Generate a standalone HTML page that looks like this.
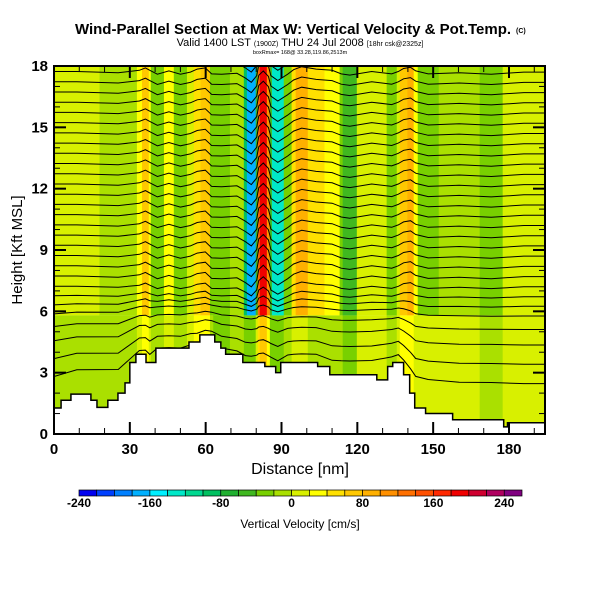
<!DOCTYPE html>
<html><head><meta charset="utf-8"><style>
body{margin:0;background:#fff;}
svg{display:block;font-family:"Liberation Sans",sans-serif;}
</style></head><body>
<svg id="chart" width="600" height="600" viewBox="0 0 600 600">
<text x="293" y="34" text-anchor="middle" font-size="15" font-weight="bold">Wind-Parallel Section at Max W: Vertical Velocity &amp; Pot.Temp.</text>
<text x="516" y="33" font-size="7" font-weight="bold">(C)</text>
<text x="300" y="46" text-anchor="middle" font-size="11">Valid 1400 LST <tspan font-size="7">(1900Z)</tspan> THU 24 Jul 2008 <tspan font-size="7">[18hr csk@2325z]</tspan></text>
<text x="300" y="54" text-anchor="middle" font-size="5.5">boxRmax= 168@ 33.28,119.86,2513m</text>
<defs><clipPath id="pc"><rect x="54" y="66" width="491" height="368"/></clipPath></defs>
<g id="field" clip-path="url(#pc)"></g>
<rect x="54" y="66" width="491" height="368" fill="none" stroke="#000" stroke-width="2"/>
<g id="axes"></g>
<text x="300" y="474" text-anchor="middle" font-size="16">Distance [nm]</text>
<text transform="translate(22,250) rotate(-90)" text-anchor="middle" font-size="15">Height [Kft MSL]</text>
<g id="cbar"></g>
<text x="300" y="528" text-anchor="middle" font-size="12">Vertical Velocity [cm/s]</text>
</svg>
<script>
// ---- data ----
const bandStart = [0,18,32.8,34.8,37.5,38.3,43.5,47.4,52.6,55.3,58,61.7,63,69.6,75.1,76.3,79.8,80.6,81.4,84.2,85.4,86.2,90.9,94,95.6,100.4,107,113,114.2,119.8,131.6,135.6,136.8,139.8,142.3,143.9,152.2,168.4,177.5];
const bandW     = [10,-10,30,70,30,-35,20,-35,0,50,70,-30,-35,-20,-100,-170,-60,120,190,100,-60,-140,-35,40,90,50,30,-30,-50,10,-30,10,60,80,20,-30,-10,-35,0];
const bandWLow  = [-10,-10,10,30,10,-10,10,-10,10,30,30,-10,-30,-10,-30,-30,10,50,70,30,-30,-30,-10,10,10,-10,-10,-10,-30,10,-10,10,30,30,10,10,10,-10,10];
const terrD = [0,2.8,6.7,14.6,17,21.3,25.3,28.1,30,32.4,36.4,40.3,53.4,57.7,63.6,66,67.9,74.7,83.4,87.7,89.7,104.3,109.1,127.7,132,134,138.3,140.7,142.7,147,157.7,177.9,179.4];
const terrH = [1.27,1.65,1.95,1.65,1.3,1.65,2.0,2.5,3.5,3.9,3.5,4.2,4.5,4.85,4.5,4.2,3.9,3.5,3.3,3.0,3.5,3.3,2.9,2.65,3.3,3.5,2.9,2.0,1.27,1.0,0.7,0.35,0.55];
const xTicks = [0,30,60,90,120,150,180];
const yTicks = [0,3,6,9,12,15,18];
const cbLabels = [-240,-160,-80,0,80,160,240];
const palette = ['#0000f0','#0040ff','#0080ff','#00b0ff','#00f0ff','#00e8c8','#00d890','#00c060','#20b030','#40b820','#78d000','#aae000','#d8f000','#ffff00','#ffe000','#ffc800','#ffb000','#ff9000','#ff7000','#ff5000','#ff2800','#f00000','#d00030','#b00060','#800080'];
// ---- scales ----
const X0=54,X1=545,Y0=434,Y1=66;
const xs = d => X0 + d*(509-54)/180;
const ys = h => Y0 - h*(Y0-Y1)/18;
const DMAX = (X1-X0)/((509-54)/180);
const col = w => palette[Math.max(0,Math.min(24,Math.floor((w+240)/20)))];
const NS='http://www.w3.org/2000/svg';
function mk(tag,attrs,parent){const e=document.createElementNS(NS,tag);for(const k in attrs)e.setAttribute(k,attrs[k]);parent.appendChild(e);return e;}
const field=document.getElementById('field');
for(let i=0;i<bandStart.length;i++){
  const d0=bandStart[i], d1=i+1<bandStart.length?bandStart[i+1]:DMAX;
  const up=mk('rect',{x:xs(d0),y:Y1,width:xs(d1)-xs(d0)+0.5,height:ys(5.8)-Y1,fill:col(bandW[i])},field);
  
  
  const lo=mk('rect',{x:xs(d0),y:ys(5.8),width:xs(d1)-xs(d0)+0.5,height:Y0-ys(5.8),fill:col(bandWLow[i])},field);
  
  
}
function terrAt(d){let h=terrH[0];for(let i=0;i<terrD.length;i++){if(d>=terrD[i])h=terrH[i];}return h;}
const levels=[2.2,3.2,4.2,5.0,5.7];
for(let h=6.2;h<18.3;h+=0.5)levels.push(h);
const pts=[0];
for(let i=0;i<bandStart.length;i++){const d1=i+1<bandStart.length?bandStart[i+1]:DMAX;pts.push((bandStart[i]+d1)/2);}
pts.push(DMAX);
levels.forEach(h=>{
  const f=h<5.5?0.15:Math.min(1,(h-5)/2.5);
  let s='';
  pts.forEach((d,j)=>{
    let bi=0;for(let i=0;i<bandStart.length;i++)if(d>=bandStart[i])bi=i;
    const w=bandW[bi];
    const lift=Math.max(0,1-h/7)*terrAt(d)*(Y0-Y1)/18*0.7;
    const y=ys(h)-w*0.06*f-lift;
    s+=(j?'L':'M')+xs(d).toFixed(1)+','+y.toFixed(1);
  });
  const p=mk('path',{d:s,fill:'none',stroke:'#000','stroke-width':1},field);
  
  
});
let td='M'+xs(0)+','+Y0;
for(let i=0;i<terrD.length;i++){const d1=i+1<terrD.length?terrD[i+1]:DMAX;td+='L'+xs(terrD[i])+','+ys(terrH[i])+'L'+xs(d1)+','+ys(terrH[i]);}
td+='L'+X1+','+Y0+'Z';
const tp=mk('path',{d:td,fill:'#fff',stroke:'#000','stroke-width':1.5},field);


const ax=document.getElementById('axes');
for(let d=0;d<=DMAX;d+=10){const x=xs(d),L=d%30===0?12:6;
  mk('line',{x1:x,y1:Y0,x2:x,y2:Y0-L,stroke:'#000','stroke-width':d%30===0?2:1},ax);
  mk('line',{x1:x,y1:Y1,x2:x,y2:Y1+L,stroke:'#000','stroke-width':d%30===0?2:1},ax);}
xTicks.forEach(v=>{const t=mk('text',{x:xs(v),y:454,'text-anchor':'middle','font-size':15,'font-weight':'bold'},ax);t.textContent=v;
  
  });
for(let h=0;h<=18;h++){const y=ys(h),L=h%3===0?12:6;
  mk('line',{x1:X0,y1:y,x2:X0+L,y2:y,stroke:'#000','stroke-width':h%3===0?2:1},ax);
  mk('line',{x1:X1,y1:y,x2:X1-L,y2:y,stroke:'#000','stroke-width':h%3===0?2:1},ax);}
yTicks.forEach(v=>{const t=mk('text',{x:48,y:ys(v)+5,'text-anchor':'end','font-size':15,'font-weight':'bold'},ax);t.textContent=v;
  
  });
const cb=document.getElementById('cbar');
const cx=w=>79+(w+240)*(522-79)/500;
for(let i=0;i<25;i++){const r=mk('rect',{x:cx(-240+i*20),y:490,width:cx(-220)-cx(-240),height:6,fill:palette[i],stroke:'#000','stroke-width':0.7},cb);
  
  }
cbLabels.forEach(v=>{const t=mk('text',{x:cx(v),y:507,'text-anchor':'middle','font-size':12,'font-weight':'bold'},cb);t.textContent=v;
  
  });
</script>
</body></html>
